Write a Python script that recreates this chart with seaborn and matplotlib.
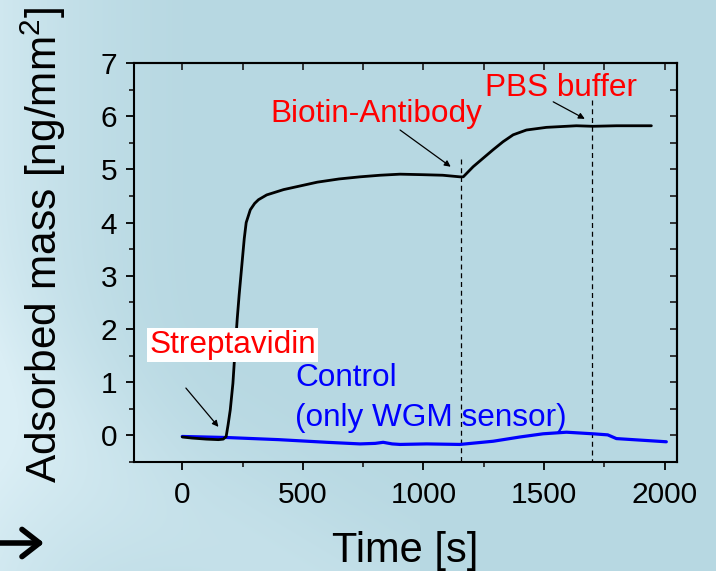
"""Adsorbed mass vs time for WGM sensor and control"""

import numpy as np
import pandas as pd
import matplotlib
matplotlib.use("Agg")
import matplotlib.pyplot as plt
import seaborn as sns

# sensor (black) trace
sensor_time = [0, 40, 100, 150, 170, 182, 190, 199, 210, 219, 228, 236, 243, 250, 257,
               265, 282, 300, 316, 350, 420, 500, 560, 650, 737, 820, 903, 1000, 1080,
               1151, 1165, 1206, 1250, 1289, 1330, 1372, 1427, 1510, 1634, 1703, 1800,
               1945]
sensor_mass = [-0.03, -0.05, -0.07, -0.08, -0.07, -0.02, 0.2, 0.48, 0.98, 1.61, 2.2,
               2.65, 3.0, 3.35, 3.7, 4.0, 4.24, 4.36, 4.43, 4.52, 4.62, 4.70, 4.76,
               4.82, 4.86, 4.89, 4.91, 4.90, 4.89, 4.86, 4.86, 5.05, 5.22, 5.37, 5.52,
               5.65, 5.74, 5.79, 5.82, 5.81, 5.82, 5.82]

# control (blue) trace
control_time = [0, 185, 400, 600, 737, 800, 833, 870, 903, 1013, 1151, 1289, 1400,
                1496, 1593, 1703, 1764, 1800, 2007]
control_mass = [-0.02, -0.04, -0.08, -0.13, -0.16, -0.15, -0.13, -0.16, -0.17, -0.16,
                -0.17, -0.11, -0.03, 0.03, 0.06, 0.03, 0.01, -0.06, -0.12]

# injection markers
event_time = [1155, 1700]
event_top = [5.2, 6.3]

sns.set_style("ticks")
plt.rcParams['font.family'] = ['Liberation Sans', 'DejaVu Sans']
plt.rcParams['mathtext.default'] = 'regular'

fig = plt.figure(figsize=(7.16, 5.71), dpi=100)

# slide-like background gradient
bg = fig.add_axes([0, 0, 1, 1], zorder=-10)
h, w = 571, 716
yy, xx = np.mgrid[0:h, 0:w]
base = np.array([183, 216, 226]) / 255.0
light = np.array([218, 238, 245]) / 255.0
t = np.clip(1.0 - xx / 220.0, 0, 1) ** 1.8 * 0.7
band = np.exp(-((xx * 0.6 + (h - yy)) - 160) ** 2 / (2 * 80.0 ** 2)) * 0.4
f = np.clip(t + band * (xx < 420), 0, 1)[..., None]
img = base * (1 - f) + light * f
bg.imshow(img, aspect='auto', extent=[0, 1, 0, 1])
bg.set_axis_off()

ax = fig.add_axes([0.1872, 0.1909, 0.7579, 0.6988])
ax.set_facecolor('none')

sensor = pd.DataFrame({'time': sensor_time, 'mass': sensor_mass})
control = pd.DataFrame({'time': control_time, 'mass': control_mass})
sns.lineplot(data=sensor, x='time', y='mass', ax=ax, color='black', lw=2.0,
             estimator=None, sort=False, zorder=3)
sns.lineplot(data=control, x='time', y='mass', ax=ax, color='#0000ff', lw=2.3,
             estimator=None, sort=False, zorder=2)

for xt, top in zip(event_time, event_top):
    ax.plot([xt, xt], [top, -0.5], color='black', lw=0.9, ls=(0, (4, 3)), zorder=1)

ax.set_xlim(-200, 2050)
ax.set_ylim(-0.5, 7)
ax.set_xticks([0, 500, 1000, 1500, 2000])
ax.set_xticks(np.arange(-0, 2001, 250), minor=True)
ax.set_yticks(np.arange(0, 8, 1))
ax.set_yticks(np.arange(-0.5, 7.01, 0.5), minor=True)

for s in ax.spines.values():
    s.set_linewidth(1.5)
    s.set_color('black')
ax.tick_params(which='major', direction='out', length=6, width=1.3, labelsize=21.5,
               colors='black', pad=6)
ax.tick_params(which='minor', direction='out', length=3.5, width=1.3)
ax.tick_params(axis='x', which='major', pad=8)

top = ax.secondary_xaxis('top')
top.set_xticks(np.arange(0, 2001, 250))
top.tick_params(direction='in', length=5, width=1.3, labeltop=False)
right = ax.secondary_yaxis('right')
right.set_yticks(np.arange(-0.5, 7.01, 0.5))
right.tick_params(direction='in', length=5, width=1.3, labelright=False)
top.spines['top'].set_linewidth(1.5)
right.spines['right'].set_linewidth(1.5)

ax.set_xlabel('Time [s]', fontsize=30, color='black')
ax.set_ylabel('Adsorbed mass [ng/mm$^2$]', fontsize=30.5, color='black')
ax.xaxis.set_label_coords(0.5, -0.172)
ax.yaxis.set_label_coords(-0.122, 0.545)

arrow = dict(arrowstyle='-|>', color='black', lw=0.9, mutation_scale=9,
             shrinkA=0, shrinkB=0)
ax.annotate('', xy=(1113, 5.05), xytext=(903, 5.74), arrowprops=arrow)
ax.annotate('', xy=(1669, 5.95), xytext=(1538, 6.27), arrowprops=arrow)
ax.annotate('', xy=(150, 0.16), xytext=(15, 0.89), arrowprops=arrow)

ax.text(804, 5.90, 'Biotin-Antibody', color='#ff0000', fontsize=22.7,
        ha='center', va='baseline')
ax.text(1569, 6.37, 'PBS buffer', color='#ff0000', fontsize=22.7,
        ha='center', va='baseline')
ax.text(209, 1.55, 'Streptavidin', color='#ff0000', fontsize=22.7,
        ha='center', va='baseline',
        bbox=dict(facecolor='white', edgecolor='none', pad=1.5))
ax.text(468, 0.92, 'Control', color='#0000ff', fontsize=22.7,
        ha='left', va='baseline')
ax.text(468, 0.17, '(only WGM sensor)', color='#0000ff', fontsize=22.7,
        ha='left', va='baseline')

# slide decoration arrow at bottom left
fig.patches.append(matplotlib.patches.FancyArrowPatch(
    (0, 1 - 543 / 571), (44 / 716, 1 - 543 / 571), transform=fig.transFigure,
    arrowstyle='->,head_length=0.9,head_width=0.7', lw=4, color='black',
    mutation_scale=14, shrinkA=0, shrinkB=0, joinstyle='round', capstyle='round'))

fig.savefig('out.png', dpi=100)
